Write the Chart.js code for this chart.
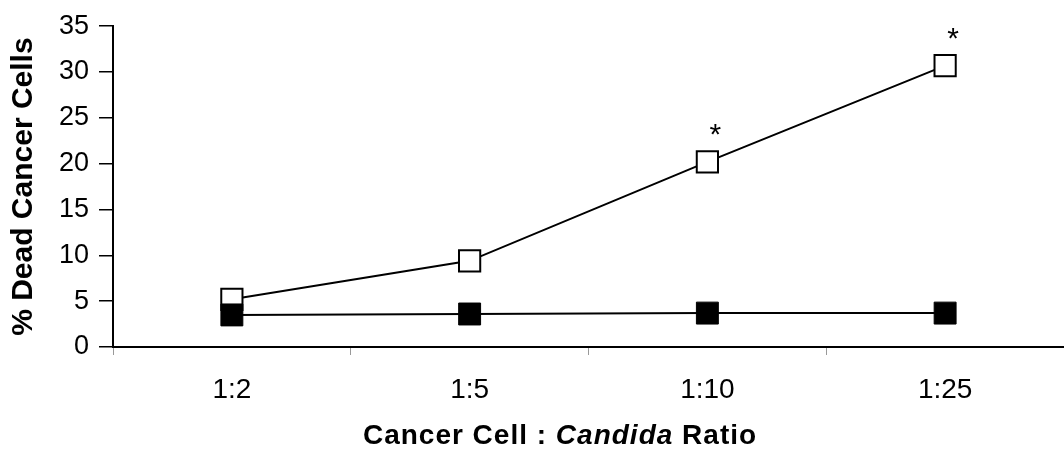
<!DOCTYPE html>
<html>
<head>
<meta charset="utf-8">
<script src="https://cdn.jsdelivr.net/npm/chart.js@4/dist/chart.umd.min.js"></script>
<style>
  html, body { margin: 0; padding: 0; background: #fff; }
  #wrap { width: 1064px; height: 459px; position: relative; }
</style>
</head>
<body>
<div id="wrap"><canvas id="chart" width="1064" height="459"></canvas></div>
<script>
// values
const ratios = ['1:2', '1:5', '1:10', '1:25'];
const candidaValues = [5.2, 9.4, 20.2, 30.7];   // open squares
const controlValues = [3.5, 3.6, 3.7, 3.7];     // filled squares
const significant = [false, false, true, true]; // asterisks on open series
const yTicks = [0, 5, 10, 15, 20, 25, 30, 35];

const FONT = '"Liberation Sans", Arial, sans-serif';

// draws "*" above significant points and the mixed-style x title
const extras = {
  id: 'extras',
  afterDatasetsDraw(chart){
    const ctx = chart.ctx;
    const meta = chart.getDatasetMeta(1);
    ctx.save();
    ctx.fillStyle = '#000';
    ctx.font = '30px ' + FONT;
    ctx.textAlign = 'center';
    ctx.textBaseline = 'middle';
    meta.data.forEach((pt, i) => {
      if(significant[i]) ctx.fillText('*', pt.x + 8, pt.y - 26);
    });

    // x axis title: "Cancer Cell : Candida Ratio"
    const parts = [
      { t: 'Cancer Cell : ', f: 'bold 28px ' + FONT },
      { t: 'Candida', f: 'italic bold 28px ' + FONT },
      { t: ' Ratio', f: 'bold 28px ' + FONT }
    ];
    ctx.letterSpacing = '1px';
    let total = 0;
    parts.forEach(p => { ctx.font = p.f; p.w = ctx.measureText(p.t).width; total += p.w; });
    let x = 560 - total / 2;
    ctx.textAlign = 'left';
    parts.forEach(p => { ctx.font = p.f; ctx.fillText(p.t, x, 436); x += p.w; });
    ctx.restore();
  }
};

new Chart(document.getElementById('chart'), {
  type: 'line',
  data: {
    labels: ratios,
    datasets: [
      {
        label: 'Control',
        data: controlValues,
        borderColor: '#000',
        borderWidth: 2,
        pointStyle: 'rect',
        pointRadius: 15.5,
        pointBackgroundColor: '#000',
        pointBorderColor: '#000',
        pointBorderWidth: 1
      },
      {
        label: 'Candida',
        data: candidaValues,
        borderColor: '#000',
        borderWidth: 2,
        pointStyle: 'rect',
        pointRadius: 15,
        pointBackgroundColor: '#fff',
        pointBorderColor: '#000',
        pointBorderWidth: 2
      }
    ]
  },
  options: {
    responsive: false,
    animation: false,
    layout: { autoPadding: false, padding: { top: 24, right: 0, bottom: 0, left: 0 } },
    plugins: { legend: { display: false }, tooltip: { enabled: false } },
    scales: {
      x: {
        offset: true,
        grid: { offset: true, drawOnChartArea: false, tickLength: 8, color: '#999', lineWidth: 1 },
        border: { color: '#000', width: 2 },
        ticks: { color: '#000', font: { family: FONT, size: 28 }, padding: 18 },
        afterFit(scale){ scale.height = 112; }
      },
      y: {
        min: 0,
        max: 35,
        afterBuildTicks(scale){ scale.ticks = yTicks.map(v => ({ value: v })); },
        grid: { drawOnChartArea: false, tickLength: 14, color: '#000', lineWidth: 1.5 },
        border: { color: '#000', width: 2 },
        ticks: { color: '#000', font: { family: FONT, size: 27 }, padding: 10 },
        title: {
          display: true,
          text: '% Dead Cancer Cells',
          color: '#000',
          font: { family: FONT, size: 30, weight: 'bold' },
          padding: { top: 6, bottom: 6 }
        },
        afterFit(scale){ scale.width = 113; }
      }
    }
  },
  plugins: [extras]
});
</script>
</body>
</html>
